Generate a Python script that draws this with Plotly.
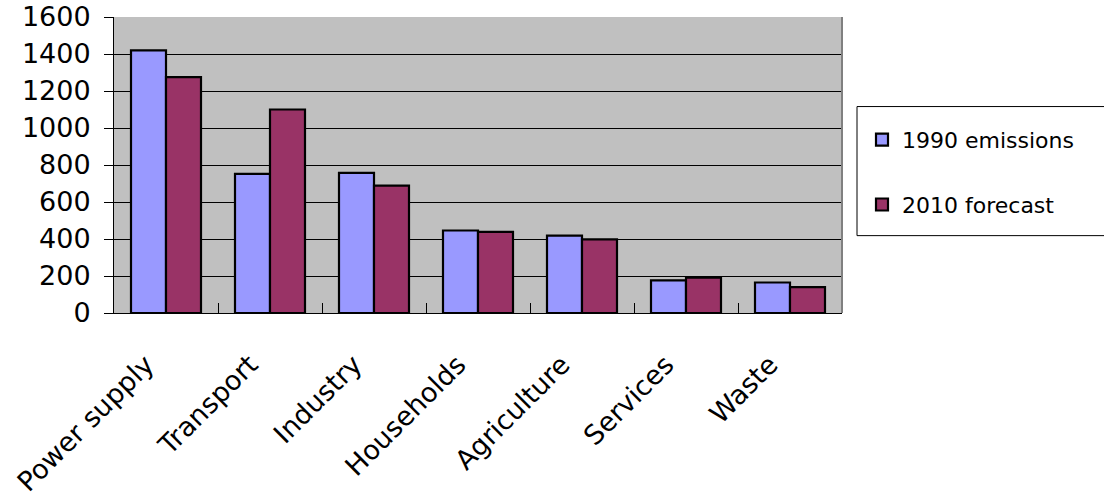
import plotly.graph_objects as go

categories = ["Power supply", "Transport", "Industry", "Households", "Agriculture", "Services", "Waste"]
emissions_1990 = [1420, 752, 757, 446, 418, 176, 165]
forecast_2010 = [1275, 1100, 688, 439, 398, 191, 140]
y_ticks = [0, 200, 400, 600, 800, 1000, 1200, 1400, 1600]

FONT = "DejaVu Sans"

fig = go.Figure()
fig.add_trace(go.Bar(
    x=categories, y=emissions_1990, name="1990 emissions",
    marker=dict(color="#9999FF", line=dict(color="black", width=2.2)),
    legend="legend", showlegend=True,
))
fig.add_trace(go.Bar(
    x=categories, y=forecast_2010, name="2010 forecast",
    marker=dict(color="#993366", line=dict(color="black", width=2.2)),
    legend="legend2", showlegend=True,
))

W, H = 1104, 500
L, R, T, B = 114, 842, 17, 313.5

def px_x(x):
    return (x - L) / (R - L)

def px_y(y):
    return (B - y) / (B - T)

fig.update_layout(
    width=W, height=H,
    margin=dict(l=L, r=W - R, t=T, b=H - B, autoexpand=False),
    paper_bgcolor="white",
    plot_bgcolor="#C0C0C0",
    barmode="group",
    bargap=0.327,
    bargroupgap=0,
    showlegend=True,
    font=dict(family=FONT, color="black", size=27),
    legend=dict(
        x=px_x(862), y=px_y(140), xanchor="left", yanchor="middle",
        xref="paper", yref="paper",
        bgcolor="rgba(0,0,0,0)", borderwidth=0,
        font=dict(family=FONT, size=22, color="black"),
        visible=True,
    ),
    legend2=dict(
        x=px_x(862), y=px_y(205), xanchor="left", yanchor="middle",
        xref="paper", yref="paper",
        bgcolor="rgba(0,0,0,0)", borderwidth=0,
        font=dict(family=FONT, size=22, color="black"),
        visible=True,
    ),
    shapes=[
        dict(type="rect", xref="paper", yref="paper",
             x0=px_x(857), x1=px_x(1115), y0=px_y(236), y1=px_y(106.7),
             line=dict(color="black", width=1), fillcolor="rgba(0,0,0,0)", layer="above"),
        dict(type="line", xref="paper", yref="paper",
             x0=1, x1=1, y0=0, y1=1,
             line=dict(color="#808080", width=2), layer="above"),
    ],
)

fig.update_xaxes(
    type="category",
    tickangle=-45,
    tickson="boundaries",
    ticks="inside", ticklen=10, tickcolor="black", tickwidth=1,
    showline=True, linecolor="black", linewidth=1,
    showgrid=False,
    ticklabelstandoff=24,
    ticklabelshift=-20,
    tickfont=dict(family=FONT, size=27, color="black"),
)
fig.update_yaxes(
    range=[0, 1600],
    tickvals=y_ticks,
    ticks="outside", ticklen=9, tickcolor="black", tickwidth=1,
    showline=True, linecolor="black", linewidth=1,
    showgrid=True, gridcolor="black", gridwidth=1,
    zeroline=False,
    ticklabelstandoff=8,
    tickfont=dict(family=FONT, size=27, color="black"),
)

fig.write_html(
    "out.html",
    config={"displayModeBar": False},
    post_script="document.body.style.margin='0';document.body.style.padding='0';",
)
